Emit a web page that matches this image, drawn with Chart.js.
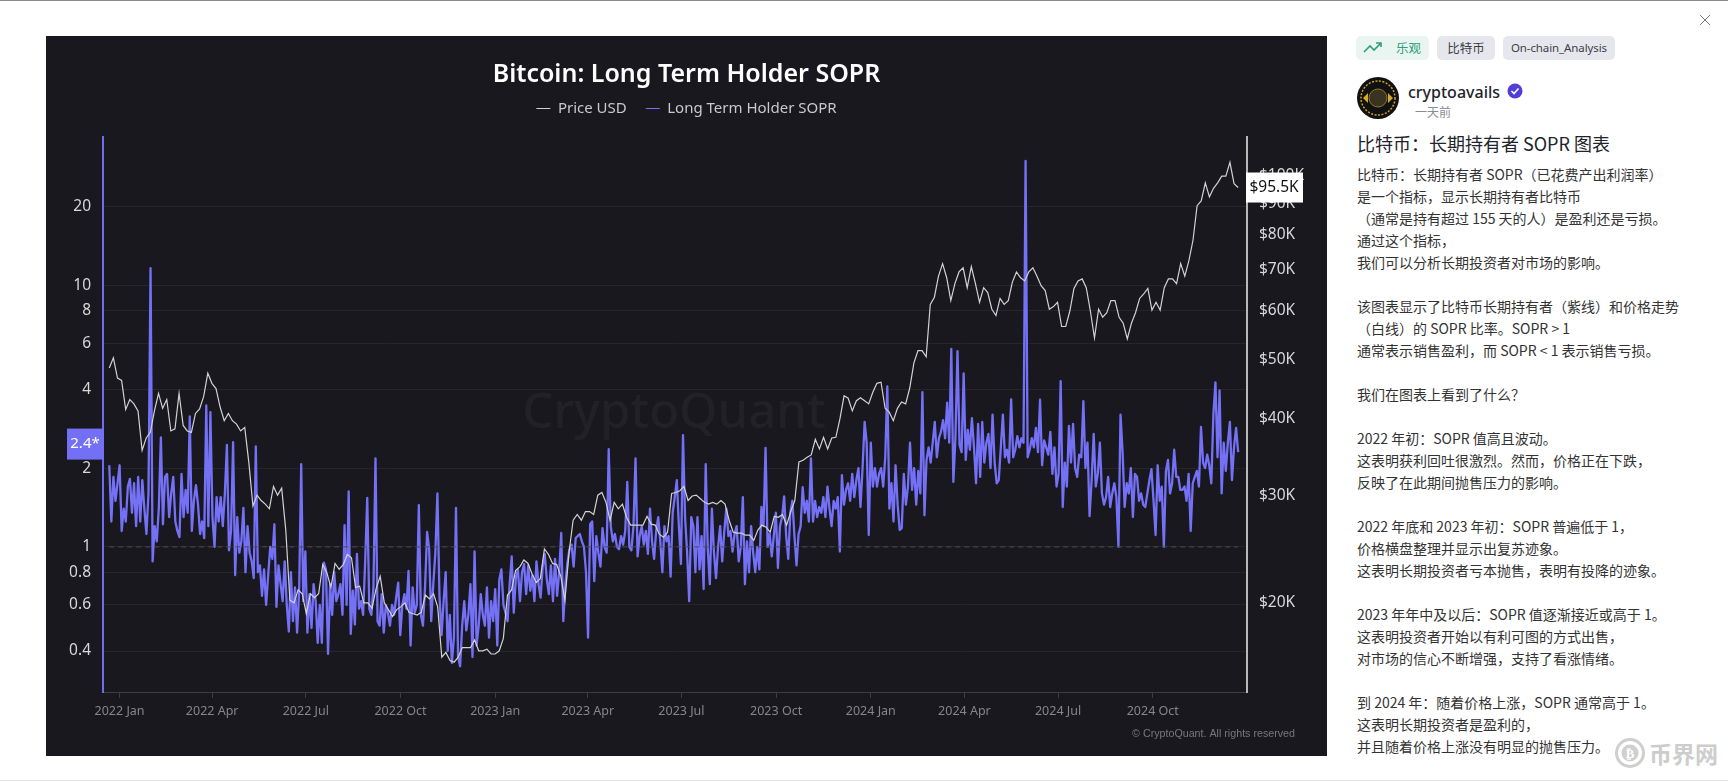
<!DOCTYPE html>
<html lang="zh"><head><meta charset="utf-8">
<script src="https://cdn.jsdelivr.net/npm/chart.js@4"></script>
<style>
html,body{margin:0;padding:0;background:#fff;width:1728px;height:781px;overflow:hidden;font-family:"Noto Sans","Noto Sans CJK SC",sans-serif}
.abs{position:absolute;white-space:nowrap}
#topline{left:0;top:0;width:1728px;height:1px;background:#8a8a8a}
#botline{left:0;top:780px;width:1728px;height:1px;background:#e4e4e6}
#panel{left:46px;top:36px;width:1281px;height:720px;background:#18181e}
#panel canvas{display:block}
.tag{top:36px;height:24px;line-height:24px;border-radius:5px;font-size:12.5px;color:#3c3f4a;background:#e6e7ed;text-align:center;font-family:"Noto Sans CJK SC","Noto Sans",sans-serif}
.line{left:1357px;font:14px/22px "Noto Sans CJK SC",sans-serif;color:#333;height:22px}
</style></head><body>
<div class="abs" id="topline"></div><div class="abs" id="botline"></div>
<div class="abs" id="panel"><canvas id="c" width="1281" height="720"></canvas></div>
<svg class="abs" style="left:1699px;top:14px" width="12" height="12"><path d="M1 1L11 11M11 1L1 11" stroke="#777" stroke-width="1"/></svg>
<div class="abs tag" id="t1" style="left:1356px;width:73px;background:#e8f5f1;color:#2f9e7a;text-align:left"><svg style="position:absolute;left:7px;top:5px" width="20" height="14"><path d="M1 11L7 5L11 9L18 2M13 2H18V6" stroke="#2f9e7a" stroke-width="1.6" fill="none"/></svg><span style="position:absolute;left:40px">乐观</span></div>
<div class="abs tag" id="t2" style="left:1437px;width:58px">比特币</div>
<div class="abs tag" id="t3" style="left:1503px;width:112px;font-family:'Noto Sans',sans-serif;font-size:11.5px;letter-spacing:-.1px">On-chain_Analysis</div>
<svg class="abs" style="left:1357px;top:77px" width="42" height="42"><circle cx="21" cy="21" r="21" fill="#111"/><circle cx="21" cy="21" r="17" fill="none" stroke="#c9a227" stroke-width="1.5" stroke-dasharray="2 1.5"/><circle cx="21" cy="21" r="9" fill="#3a3320" stroke="#8c7a2e"/><path d="M6 21L11 16L11 26ZM36 21L31 16L31 26Z" fill="#d4a92c"/></svg>
<div class="abs" style="left:1408px;top:81px;font-size:16px;line-height:22px;font-weight:500;color:#22242c">cryptoavails</div>
<svg class="abs" style="left:1507px;top:83px" width="16" height="16"><circle cx="8" cy="8" r="7.5" fill="#4f3fd8"/><path d="M4.5 8L7 10.5L11.5 5.5" stroke="#fff" stroke-width="1.6" fill="none"/></svg>
<div class="abs" style="left:1415px;top:103px;font:12px/18px 'Noto Sans CJK SC',sans-serif;color:#8a8c94">一天前</div>
<div class="abs" style="left:1357px;top:130px;font:18px/26px 'Noto Sans CJK SC',sans-serif;font-weight:400;color:#22242c">比特币：长期持有者 SOPR 图表</div>
<div id="body"></div>
<svg class="abs" style="left:1614px;top:737px" width="32" height="32"><circle cx="16" cy="16" r="13.5" fill="none" stroke="#cfcfcf" stroke-width="3"/><circle cx="16" cy="16" r="8.5" fill="#cfcfcf"/><text x="16" y="21" text-anchor="middle" font-size="13" font-weight="700" fill="#fff" font-family="DejaVu Sans">₿</text></svg>
<div class="abs" style="left:1649px;top:735px;font:700 23px/36px 'Noto Sans CJK SC',sans-serif;color:#cdcdcd">币界网</div>
<script>
const xTickDays=[0,90,181,273,365,455,546,638,730,821,912,1004];
const xTickLabels=["2022 Jan","2022 Apr","2022 Jul","2022 Oct","2023 Jan","2023 Apr","2023 Jul","2023 Oct","2024 Jan","2024 Apr","2024 Jul","2024 Oct"];
const soprTicks=[0.4,0.6,0.8,1,2,4,6,8,10,20];
const priceTicks=[20000,30000,40000,50000,60000,70000,80000,90000,100000];
const firstDay=-10, lastDay=1087;
const soprValues=[
2.05,1.25,1.85,1.5,1.75,2.05,1.15,1.4,1.25,1.7,1.82,1.35,1.75,1.2,1.85,1.25,1.8,1.4,1.12,1.6,11.6,.88,1.2,1.05,1.4,2.62,1.22,1.85,1.9,1.3,1.6,1.85,1.25,1.15,1.09,1.9,1.3,1.65,1.35,3.15,1.15,1.5,1.72,1.45,1.12,1.25,1.08,3.47,1.2,3.27,1.3,1.0,1.55,1.25,1.55,1.2,1.6,2.45,.97,1.15,2.51,.78,1.3,.95,1.05,1.41,.8,1.2,.95,.88,.76,2.42,.8,.85,.65,.82,.6,.78,1.0,.9,1.22,.59,.85,.72,.62,.88,.6,.475,
.8,.52,.7,.47,.68,2.07,.62,.96,.47,.66,.49,.72,.62,.43,.6,.43,.87,.82,.39,.72,.55,.8,.62,.66,.72,.55,1.21,.6,1.63,.465,.68,.505,.94,.58,.62,.55,.88,1.54,.58,.55,.7,2.18,.52,.5,.66,.47,.6,.56,.5,.6,.55,.64,.73,.46,.6,.66,.58,.81,.42,.7,.56,.6,1.445,.55,.5,.7,1.14,.98,.52,.72,.95,1.6,.65,.46,.62,.8,.4,.55,.36,.45,1.41,.38,.35,.5,.62,.48,.55,.72,.38,.96,.42,.5,
.66,.55,.5,.7,.45,.62,.52,.69,.42,.75,.82,.6,.56,.52,.72,.92,.56,.76,.82,.62,.8,.86,.66,.85,.68,.78,.62,.88,.72,.64,.84,.94,.75,.66,.85,.62,.9,.65,.8,1.13,.52,.72,.87,.98,1.02,.84,1.08,1.1,1.12,1.05,1.0,.8,.45,1.22,1.25,.74,1.1,.95,.84,1.18,1.0,.95,2.36,1.2,1.05,1.12,1.0,.98,1.1,1.02,1.15,1.77,1.0,.97,1.2,2.18,.92,1.1,1.2,1.02,1.15,.94,1.4,1.05,.9,1.15,1.3,1.05,.8,1.2,1.05,1.1,
.77,1.35,1.55,1.8,1.2,.86,2.67,1.3,.95,.62,1.3,1.2,.8,1.3,.82,1.1,.69,2.07,.98,.72,1.4,.95,.76,1.0,1.2,.88,1.15,1.4,1.1,1.15,.96,1.12,1.2,.88,1.0,1.55,.72,1.05,.8,1.2,.95,.8,1.0,.82,1.42,1.2,2.39,1.0,1.12,.92,1.1,1.35,.83,1.2,1.3,1.56,1.1,.9,1.35,1.5,1.1,.85,1.12,1.2,1.69,1.35,1.5,1.25,2.18,1.25,1.5,1.3,1.42,1.35,1.55,1.3,1.7,1.4,1.2,1.5,1.4,1.55,.96,1.88,1.45,1.65,1.75,1.5,1.9,1.55,1.8,2.0,
1.42,2.0,3.0,2.5,1.11,2.5,1.7,2.0,1.7,1.9,2.0,1.7,2.2,4.1,1.4,1.75,1.25,2.05,1.45,1.16,1.18,1.9,1.45,1.7,2.5,1.65,2.0,1.45,1.95,1.6,3.9,1.32,2.15,2.4,2.1,2.5,3.0,2.2,2.6,2.75,3.05,2.6,3.56,2.5,5.7,1.77,2.6,5.6,2.45,2.3,4.6,2.15,2.8,2.35,3.1,2.4,1.75,2.95,1.85,3.0,2.1,2.5,2.7,2.0,3.2,2.1,1.75,1.8,2.4,3.2,2.2,2.35,2.1,3.66,2.2,2.35,2.65,2.4,2.6,2.5,29.8,2.2,2.35,2.6,2.4,2.85,2.3,3.65,2.05,2.55,2.4,2.25,
2.75,1.9,2.4,1.7,1.9,4.3,1.42,2.1,1.7,2.9,2.1,2.95,2.0,1.85,2.25,2.2,3.6,2.0,2.5,1.31,1.8,2.7,1.7,1.9,2.5,1.6,1.45,1.55,1.85,1.42,1.6,1.75,1.55,1.0,3.2,2.3,1.42,1.75,1.6,2.0,1.3,1.9,1.85,1.5,1.6,1.45,1.42,1.6,1.8,1.98,1.5,1.11,2.05,1.5,1.7,1.0,1.95,2.15,1.6,1.75,2.35,1.85,1.85,1.65,1.65,1.7,1.5,1.9,1.15,1.75,1.85,1.95,1.7,2.87,2.1,2.0,2.25,2.05,1.75,3.2,4.25,2.2,3.96,1.6,2.5,1.95,2.5,3.0,1.8,2.4,2.85,2.3];
const priceK=[
48.4,50.3,46.6,46.2,41.4,43,42.3,41.2,35.5,37.2,38,41.2,44,41.6,43,38.2,38.5,44,39,38.2,38,40.8,41.5,43.5,47.5,45.7,44.8,41.8,39.7,40.8,39.7,39.2,38.2,38.7,33.9,28.8,30,29.4,29,28.5,31,30,30.8,26.3,
20.2,20,21,20.7,19.2,20.7,20.4,20.7,23.1,22.4,21.2,23.2,22.7,23.1,24,23.7,21.2,21.3,20,20,19.6,21.1,22.1,20,19.5,19,19.5,19.7,20,19.3,19.2,19.1,19.3,20.6,20.3,20.7,19.7,16.3,16.6,16.1,16,16.3,16.9,16.9,16.9,17.4,
16.7,16.7,16.8,16.5,16.5,16.7,17.5,20.6,21,22.6,22.9,23.5,23.2,22.3,21.6,21.9,24.5,24,23.2,23.1,22.1,20.2,24.2,27.3,27.9,27.3,28.2,28.2,27.9,30,30.3,29.2,27.3,29.2,28.5,29,27.6,26.8,26.8,26.8,26.8,27.7,26.9,26.8,25.9,25.6,26.1,
30.2,30.3,30.5,31,29.4,29.9,30,29.6,29.2,29,29.2,29,29.4,29,27.3,26.1,26,26,25.8,25.8,25.3,26.3,26.8,26.6,26.1,27.7,27.6,27.9,26.8,28.2,29.4,34,34.2,34.6,34.9,37,35.7,37.3,35.7,37.2,37.3,40,43.6,43.2,41.2,42.8,
43.3,42.8,42.3,44.2,45.7,45.9,41.6,41,39.7,41.6,42.6,42.3,44.9,49.3,51.7,51.7,50.5,61.5,63.2,68.4,71.7,68,62.4,66.5,69.5,70.6,65.5,70.9,66.5,62,65.5,64.3,60.4,59,62.9,61.5,62.4,66.9,69.5,68,67.2,69.5,70.6,68.4,66,64.8,60.4,61,62,56.6,56.6,60,65.3,67.2,67.7,65.5,60,54.2,60.4,58.6,59.6,62.4,62.4,58.6,57.3,54,57.3,59.6,62.9,64,65.3,60.2,62,60.2,65.5,67.7,67.7,66.5,71.7,68.4,72.5,78.3,89.2,90.8,97.2,92.2,95.2,97.2,99.7,99.7,105,96.9,95.5];
const titleText="Bitcoin: Long Term Holder SOPR";
const seriesNames=["Price USD","Long Term Holder SOPR"];
const thresholdValue=1;
const soprTagValue=2.47, soprTagLabel="2.4*";
const priceTagValue=95500, priceTagLabel="$95.5K";
const bodyLines=["比特币：长期持有者 SOPR（已花费产出利润率）","是一个指标，显示长期持有者比特币","（通常是持有超过 155 天的人）是盈利还是亏损。","通过这个指标，","我们可以分析长期投资者对市场的影响。","","该图表显示了比特币长期持有者（紫线）和价格走势","（白线）的 SOPR 比率。SOPR > 1","通常表示销售盈利，而 SOPR < 1 表示销售亏损。","","我们在图表上看到了什么？","","2022 年初：SOPR 值高且波动。","这表明获利回吐很激烈。然而，价格正在下跌，","反映了在此期间抛售压力的影响。","","2022 年底和 2023 年初：SOPR 普遍低于 1，","价格横盘整理并显示出复苏迹象。","这表明长期投资者亏本抛售，表明有投降的迹象。","","2023 年年中及以后：SOPR 值逐渐接近或高于 1。","这表明投资者开始以有利可图的方式出售，","对市场的信心不断增强，支持了看涨情绪。","","到 2024 年：随着价格上涨，SOPR 通常高于 1。","这表明长期投资者是盈利的，","并且随着价格上涨没有明显的抛售压力。"];

bodyLines.forEach((t,i)=>{if(!t)return;const d=document.createElement('div');d.className='abs line';d.style.top=(163+22*i)+'px';d.textContent=t;document.getElementById('body').appendChild(d);});

const along=(vals,scale)=>vals.map((v,i)=>({x:firstDay+(lastDay-firstDay)*i/(vals.length-1),y:v*scale}));
const FONT='"Noto Sans","Noto Sans CJK SC",sans-serif';
const overlay={id:'overlay',
 beforeDatasetsDraw(ch){const c=ch.ctx;c.save();
  c.fillStyle='#212127';c.font='500 49px '+FONT;c.textAlign='center';c.textBaseline='middle';
  c.fillText('CryptoQuant',628,378);c.restore();},
 afterDraw(ch){const c=ch.ctx,a=ch.chartArea;c.save();
  const ly=ch.scales.y.getPixelForValue(soprTagValue);
  c.fillStyle='#7370f5';c.fillRect(a.left-36,ly-15.5,37,31);
  c.fillStyle='#fff';c.font='15px '+FONT;c.textAlign='center';c.textBaseline='middle';
  c.fillText(soprTagLabel,a.left-18,ly);
  const ry=ch.scales.y1.getPixelForValue(priceTagValue);
  c.fillStyle='#fff';c.fillRect(a.right-1,ry-15,57,30);
  c.fillStyle='#111';c.font='15.5px '+FONT;c.fillText(priceTagLabel,a.right+27,ry);
  c.fillStyle='#77777d';c.font='10.7px "Liberation Sans",sans-serif';c.textAlign='right';
  c.fillText('© CryptoQuant. All rights reserved',1249,698);
  c.restore();}};

const thinLegend=ch=>Chart.defaults.plugins.legend.labels.generateLabels(ch).map(i=>Object.assign(i,{lineWidth:0}));
new Chart(document.getElementById('c'),{type:'line',plugins:[overlay],
 data:{datasets:[
  {label:seriesNames[0],data:along(priceK,1000),yAxisID:'y1',borderColor:'#d2d2d2',backgroundColor:'#d2d2d2',borderWidth:1.2,pointRadius:0,tension:0},
  {label:'threshold',data:[{x:firstDay,y:thresholdValue},{x:lastDay,y:thresholdValue}],yAxisID:'y',borderColor:'#4a4a50',borderWidth:1,borderDash:[5,4],pointRadius:0},
  {label:seriesNames[1],data:along(soprValues,1),yAxisID:'y',borderColor:'#7471f6',backgroundColor:'#7471f6',borderWidth:2.3,borderJoinStyle:'round',pointRadius:0,tension:0}
 ]},
 options:{responsive:false,animation:false,devicePixelRatio:1,
  layout:{padding:0},
  plugins:{
   title:{display:true,text:titleText,color:'#fff',font:{family:FONT,size:25,weight:'600',lineHeight:1},padding:{top:26,bottom:-5}},
   subtitle:{display:true,text:' ',weight:500,font:{size:1,lineHeight:1},padding:{top:0,bottom:10}},
   legend:{display:true,labels:{generateLabels:thinLegend,filter:i=>i.text!=='threshold',color:'#c9c9c9',font:{family:FONT,size:15},boxWidth:14,boxHeight:1,padding:19}},
   tooltip:{enabled:false}},
  scales:{
   x:{type:'linear',min:-16.1,max:1095.6,
     afterBuildTicks:s=>{s.ticks=xTickDays.map(v=>({value:v}));},
     afterFit:s=>{s.height=64;},
     grid:{drawOnChartArea:false,drawTicks:true,tickLength:6,color:'#3e3e44'},
     border:{color:'#3e3e44',width:1},
     ticks:{autoSkip:false,maxRotation:0,padding:6,color:'#85858b',font:{family:FONT,size:12.5},callback:v=>xTickLabels[xTickDays.indexOf(v)]}},
   y:{type:'logarithmic',position:'left',min:0.279,max:36.8,
     afterBuildTicks:s=>{s.ticks=soprTicks.map(v=>({value:v}));},
     afterFit:s=>{s.width=57;},
     grid:{color:'#25252b',drawTicks:false},
     border:{color:'#6f6cf2',width:2},
     ticks:{autoSkip:false,padding:12,color:'#d8d8d8',font:{family:FONT,size:15.5},callback:v=>String(v)}},
   y1:{type:'logarithmic',position:'right',min:14300,max:115500,
     afterBuildTicks:s=>{s.ticks=priceTicks.map(v=>({value:v}));},
     afterFit:s=>{s.width=80;},
     grid:{drawOnChartArea:false,drawTicks:false},
     border:{color:'#b8b8b8',width:2},
     ticks:{autoSkip:false,padding:12,color:'#d8d8d8',font:{family:FONT,size:15.5},callback:v=>'$'+(v/1000)+'K'}}
  }}});
</script>
</body></html>
